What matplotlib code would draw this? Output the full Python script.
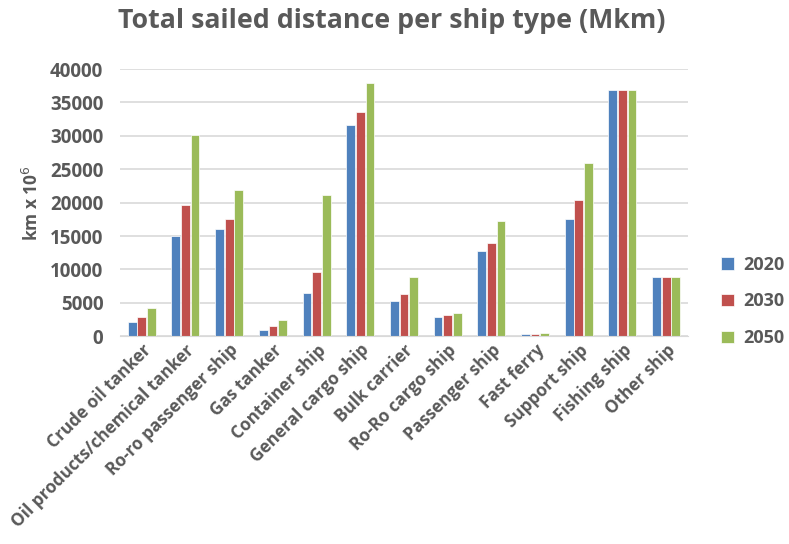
import matplotlib
matplotlib.use("Agg")
import matplotlib.pyplot as plt
import numpy as np

ship_types = ["Crude oil tanker", "Oil products/chemical tanker", "Ro-ro passenger ship",
              "Gas tanker", "Container ship", "General cargo ship", "Bulk carrier",
              "Ro-Ro cargo ship", "Passenger ship", "Fast ferry", "Support ship",
              "Fishing ship", "Other ship"]
y2020 = [2100, 15000, 16000, 1000, 6400, 31700, 5200, 2800, 12700, 300, 17500, 36800, 8800]
y2030 = [2900, 19600, 17500, 1500, 9600, 33500, 6300, 3100, 13900, 300, 20400, 36800, 8800]
y2050 = [4200, 30200, 21900, 2400, 21200, 37900, 8800, 3400, 17300, 500, 26000, 36800, 8800]

grey = "#595959"
plt.rcParams['font.family'] = ['Open Sans', 'DejaVu Sans']

fig = plt.figure(figsize=(7.89, 5.44), dpi=100)
ax = fig.add_axes([0.152, 0.382, 0.72, 0.491])

x = np.arange(len(ship_types))
w = 0.2
ax.bar(x - 0.22, y2020, w, color="#4f81bd", label="2020", edgecolor="white", linewidth=0.5)
ax.bar(x, y2030, w, color="#c0504d", label="2030", edgecolor="white", linewidth=0.5)
ax.bar(x + 0.22, y2050, w, color="#9bbb59", label="2050", edgecolor="white", linewidth=0.5)

ax.set_xlim(-0.5, len(ship_types) - 0.5)
ax.set_ylim(0, 40000)
ax.set_yticks(np.arange(0, 40001, 5000))
ax.yaxis.grid(True, color="#d9d9d9", linewidth=1.2)
ax.set_axisbelow(True)
for s in ["top", "right", "left"]:
    ax.spines[s].set_visible(False)
ax.spines["bottom"].set_color("#d9d9d9")
ax.tick_params(axis="both", length=0, colors=grey)
ax.tick_params(axis="y", pad=12)

ax.set_xticks(x)
ax.set_xticklabels(ship_types, rotation=45, ha="right", rotation_mode="anchor",
                   fontsize=12.3, fontweight="bold", color=grey)
for lab in ax.get_yticklabels():
    lab.set_fontsize(13.5)
    lab.set_fontweight("bold")
    lab.set_color(grey)

ax.set_ylabel("km x 10$^6$", fontsize=12.5, fontweight="bold", color=grey, labelpad=6)
fig.suptitle("Total sailed distance per ship type (Mkm)", x=0.497, y=0.985,
             fontsize=19.3, fontweight="bold", color=grey)

leg = ax.legend(loc="center left", bbox_to_anchor=(1.03, 0.13), frameon=False,
                handlelength=0.7, handleheight=0.7, labelspacing=1.05,
                handletextpad=0.5, prop={"size": 13, "weight": "bold"})
for t in leg.get_texts():
    t.set_color(grey)

fig.savefig("out.png", dpi=100)
